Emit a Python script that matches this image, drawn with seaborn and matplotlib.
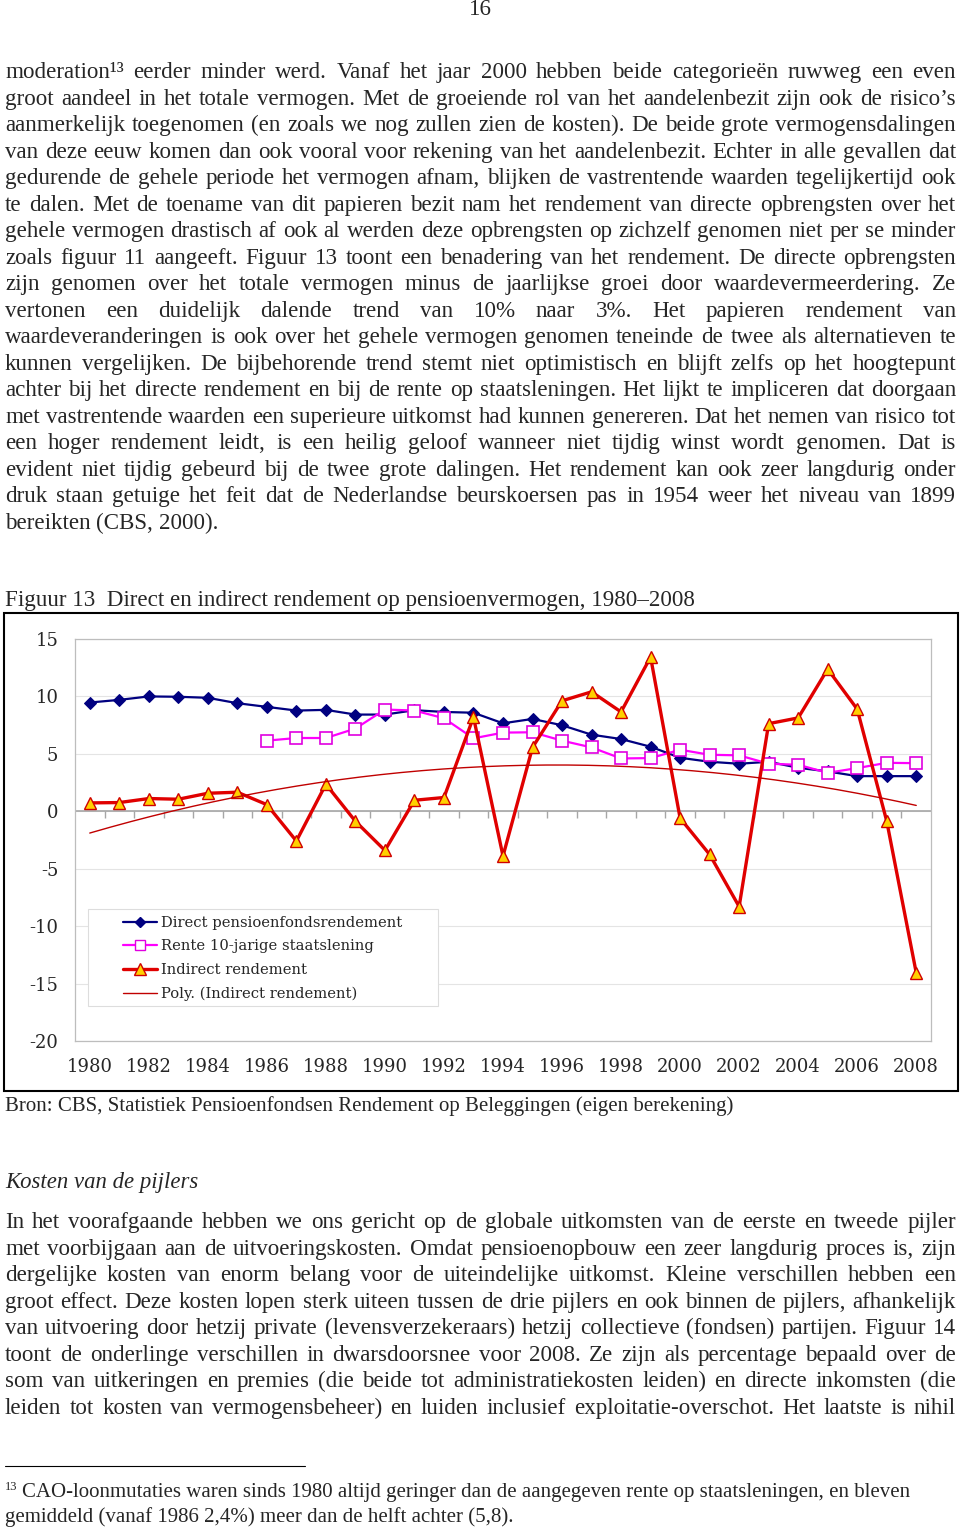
import numpy as np
import pandas as pd
import matplotlib
matplotlib.use("Agg")
import matplotlib.pyplot as plt
import seaborn as sns
from matplotlib.patches import Rectangle
from matplotlib.lines import Line2D

# --- data ---
years = list(range(1980, 2009))
direct = [9.47, 9.7, 10.0, 9.97, 9.88, 9.41, 9.09, 8.77, 8.83, 8.42, 8.42, 8.8, 8.65, 8.58,
          7.66, 8.04, 7.49, 6.67, 6.29, 5.62, 4.66, 4.31, 4.14, 4.31, 3.79, 3.47, 3.06, 3.06, 3.06]
rente_years = list(range(1986, 2009))
rente = [6.15, 6.38, 6.38, 7.2, 8.86, 8.77, 8.1, 6.35, 6.85, 6.88, 6.15, 5.56, 4.6, 4.63,
         5.36, 4.92, 4.87, 4.14, 4.05, 3.35, 3.76, 4.22, 4.19]
indirect = [0.73, 0.76, 1.11, 1.05, 1.57, 1.66, 0.58, -2.59, 2.36, -0.87, -3.41, 0.96, 1.2, 8.2,
            -3.9, 5.56, 9.62, 10.4, 8.65, 13.43, -0.6, -3.76, -8.3, 7.63, 8.13, 12.38, 8.89, -0.86, -14.07]
series_labels = ["Direct pensioenfondsrendement", "Rente 10-jarige staatslening",
                 "Indirect rendement", "Poly. (Indirect rendement)"]
y_ticks = [-20, -15, -10, -5, 0, 5, 10, 15]
x_ticks = years[::2]

para1 = [
    "moderation\u00b9\u00b3 eerder minder werd. Vanaf het jaar 2000 hebben beide categorieën ruwweg een even",
    "groot aandeel in het totale vermogen. Met de groeiende rol van het aandelenbezit zijn ook de risico’s",
    "aanmerkelijk toegenomen (en zoals we nog zullen zien de kosten). De beide grote vermogensdalingen",
    "van deze eeuw komen dan ook vooral voor rekening van het aandelenbezit. Echter in alle gevallen dat",
    "gedurende de gehele periode het vermogen afnam, blijken de vastrentende waarden tegelijkertijd ook",
    "te dalen. Met de toename van dit papieren bezit nam het rendement van directe opbrengsten over het",
    "gehele vermogen drastisch af ook al werden deze opbrengsten op zichzelf genomen niet per se minder",
    "zoals figuur 11 aangeeft. Figuur 13 toont een benadering van het rendement. De directe opbrengsten",
    "zijn genomen over het totale vermogen minus de jaarlijkse groei door waardevermeerdering. Ze",
    "vertonen een duidelijk dalende trend van 10% naar 3%. Het papieren rendement van",
    "waardeveranderingen is ook over het gehele vermogen genomen teneinde de twee als alternatieven te",
    "kunnen vergelijken. De bijbehorende trend stemt niet optimistisch en blijft zelfs op het hoogtepunt",
    "achter bij het directe rendement en bij de rente op staatsleningen. Het lijkt te impliceren dat doorgaan",
    "met vastrentende waarden een superieure uitkomst had kunnen genereren. Dat het nemen van risico tot",
    "een hoger rendement leidt, is een heilig geloof wanneer niet tijdig winst wordt genomen. Dat is",
    "evident niet tijdig gebeurd bij de twee grote dalingen. Het rendement kan ook zeer langdurig onder",
    "druk staan getuige het feit dat de Nederlandse beurskoersen pas in 1954 weer het niveau van 1899",
    "bereikten (CBS, 2000).",
]
para2 = [
    "In het voorafgaande hebben we ons gericht op de globale uitkomsten van de eerste en tweede pijler",
    "met voorbijgaan aan de uitvoeringskosten. Omdat pensioenopbouw een zeer langdurig proces is, zijn",
    "dergelijke kosten van enorm belang voor de uiteindelijke uitkomst. Kleine verschillen hebben een",
    "groot effect. Deze kosten lopen sterk uiteen tussen de drie pijlers en ook binnen de pijlers, afhankelijk",
    "van uitvoering door hetzij private (levensverzekeraars) hetzij collectieve (fondsen) partijen. Figuur 14",
    "toont de onderlinge verschillen in dwarsdoorsnee voor 2008. Ze zijn als percentage bepaald over de",
    "som van uitkeringen en premies (die beide tot administratiekosten leiden) en directe inkomsten (die",
    "leiden tot kosten van vermogensbeheer) en luiden inclusief exploitatie-overschot. Het laatste is nihil",
]
caption = "Figuur 13  Direct en indirect rendement op pensioenvermogen, 1980–2008"
source = "Bron: CBS, Statistiek Pensioenfondsen Rendement op Beleggingen (eigen berekening)"
heading = "Kosten van de pijlers"
footnote = ["CAO-loonmutaties waren sinds 1980 altijd geringer dan de aangegeven rente op staatsleningen, en bleven",
            "gemiddeld (vanaf 1986 2,4%) meer dan de helft achter (5,8)."]

sns.set_style("white")
plt.rcParams["axes.unicode_minus"] = False

W, H = 960, 1529
SERIF = "Liberation Serif"
BODY = 16.56
fig = plt.figure(figsize=(W / 100, H / 100), dpi=100)
renderer = fig.canvas.get_renderer()


def fy(y):
    return 1 - y / H


def put_line(line, base, fs=BODY, x0=5, x1=956, justify=True, style="normal"):
    words = line.split(" ")
    objs = [fig.text(0, fy(base), w, fontsize=fs, family=SERIF, style=style, va="baseline")
            for w in words]
    ws = [o.get_window_extent(renderer=renderer).width for o in objs]
    if justify and len(words) > 1:
        gap = (x1 - x0 - sum(ws)) / (len(words) - 1)
    else:
        gap = fs * 100 / 72 * 0.25
    x = x0
    for o, w in zip(objs, ws):
        o.set_x(x / W)
        x += w + gap


def fitted(text, x, base, width, fs=BODY, style="normal"):
    t = fig.text(x / W, fy(base), text, fontsize=fs, family=SERIF, style=style, va="baseline")
    w = t.get_window_extent(renderer=renderer).width
    t.set_fontsize(fs * width / w)
    return t


# page number
fig.text(480 / W, fy(15), "16", fontsize=BODY, family=SERIF, ha="center", va="baseline")

# first paragraph
for i, line in enumerate(para1):
    put_line(line, 78 + i * 26.53, justify=(i < len(para1) - 1))

# caption and chart frame
fitted(caption, 5, 606, 690)
fig.add_artist(Rectangle((4 / W, fy(1091)), 954 / W, 478 / H, transform=fig.transFigure,
                         fill=False, lw=1.5, ec="black"))

ax = fig.add_axes([75 / W, fy(1041), (931 - 75) / W, (1041 - 639) / H])
df = pd.DataFrame({"year": years, "direct": direct, "indirect": indirect})
df_r = pd.DataFrame({"year": rente_years, "rente": rente})

sns.lineplot(data=df, x="year", y="direct", ax=ax, color="#000080", lw=1.6,
             marker="D", markersize=6, markeredgecolor="#000080", zorder=3)
sns.lineplot(data=df_r, x="year", y="rente", ax=ax, color="#ff00ff", lw=1.6,
             marker="s", markersize=8, markerfacecolor="white", markeredgecolor="#e000e0",
             markeredgewidth=1.2, zorder=4)
sns.lineplot(data=df, x="year", y="indirect", ax=ax, color="#e00000", lw=2.4,
             marker="^", markersize=9, markerfacecolor="#ffd000", markeredgecolor="#d00000",
             markeredgewidth=1.0, zorder=5)

# Excel-style 2nd order polynomial trend line
coef = np.polyfit(years, indirect, 2)
xs = np.linspace(years[0], years[-1], 200)
sns.lineplot(x=xs, y=np.polyval(coef, xs), ax=ax, color="#c00000", lw=1.0, zorder=6)

ax.set_xlim(years[0] - 0.5, years[-1] + 0.5)
ax.set_ylim(y_ticks[0], y_ticks[-1])
ax.axhline(0, color="#a6a6a6", lw=1.2, zorder=1)
bounds = np.array(years[:-1]) + 0.5
ax.plot(bounds, np.zeros(len(bounds)), ls="none", marker=3, ms=5,
        mec="#a6a6a6", mew=1.0, zorder=1)

ax.set_yticks(y_ticks)
ax.set_yticklabels([str(v) for v in y_ticks])
ax.set_xticks(x_ticks)
ax.set_xticklabels([str(v) for v in x_ticks])
ax.yaxis.grid(True, color="#e4e4e4", lw=0.8)
ax.xaxis.grid(False)
ax.tick_params(axis="y", length=5, color="#c0c0c0", width=0.8, pad=7, labelsize=13)
ax.tick_params(axis="x", length=0, pad=12, labelsize=13)
for lab in ax.get_xticklabels() + ax.get_yticklabels():
    lab.set_family("DejaVu Serif")
for sp in ax.spines.values():
    sp.set_color("#bdbdbd")
    sp.set_linewidth(0.9)
ax.set_xlabel("")
ax.set_ylabel("")

# legend (box drawn inside the axes so it sits above the plot area)
ax.add_patch(Rectangle((88 / W, fy(1006)), 350 / W, 97 / H, transform=fig.transFigure,
                       fc="white", ec="#dddddd", lw=0.8, zorder=7, clip_on=False))
handles = [
    Line2D([], [], color="#000080", lw=1.6, marker="D", ms=5, mec="#000080"),
    Line2D([], [], color="#ff00ff", lw=1.6, marker="s", ms=7, mfc="white", mec="#e000e0"),
    Line2D([], [], color="#e00000", lw=2.4, marker="^", ms=8, mfc="#ffd000", mec="#d00000"),
    Line2D([], [], color="#c00000", lw=1.0),
]
leg = ax.legend(handles, series_labels, loc="upper left", bbox_to_anchor=(123 / W, fy(916)),
                bbox_transform=fig.transFigure, frameon=False, borderpad=0, borderaxespad=0,
                handlelength=2.33, handletextpad=0.27, labelspacing=0.64,
                prop={"family": "DejaVu Serif", "size": 10.6})
leg.set_zorder(8)

# source, heading, second paragraph
fitted(source, 5, 1111, 730)
fitted(heading, 5, 1188, 193, style="italic")
for i, line in enumerate(para2):
    put_line(line, 1228 + i * 26.55)

# footnote
fig.add_artist(Line2D([5 / W, 305 / W], [fy(1466), fy(1466)], transform=fig.transFigure,
                      color="black", lw=0.8))
fig.text(5 / W, fy(1490), "13", fontsize=9, family=SERIF, va="baseline")
fn = fitted(footnote[0], 22, 1497, 891, fs=14)
fig.text(5 / W, fy(1522), footnote[1], fontsize=fn.get_fontsize(), family=SERIF, va="baseline")

fig.savefig("out.png", dpi=100)
